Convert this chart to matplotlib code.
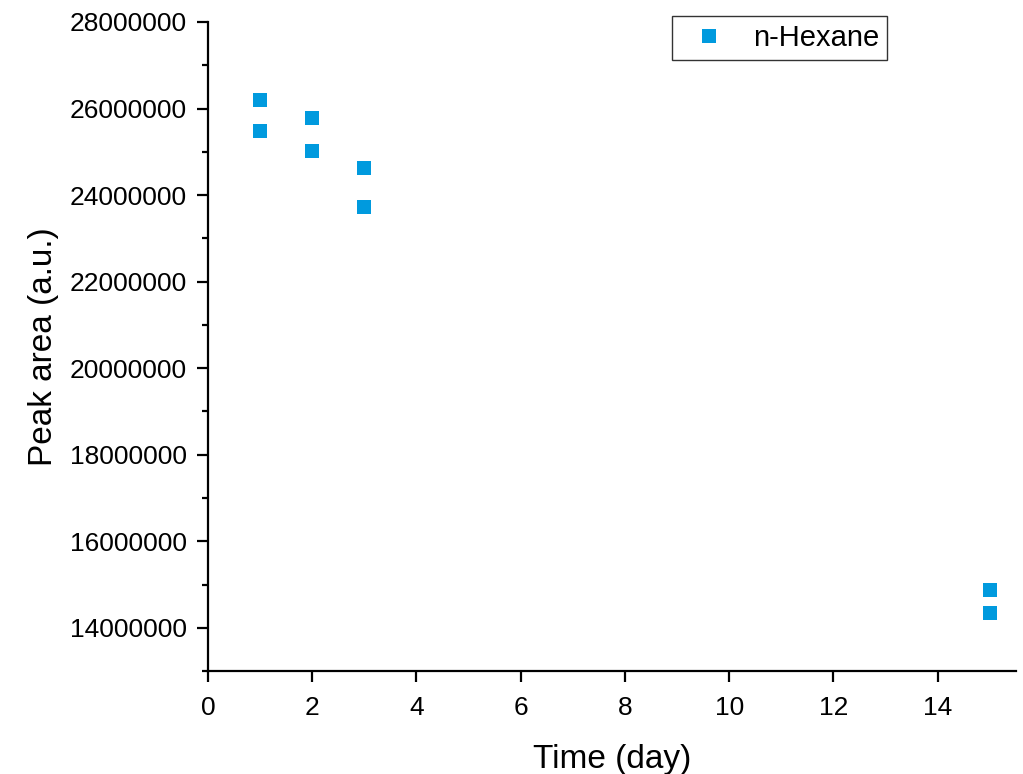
import matplotlib
matplotlib.use("Agg")
import matplotlib.pyplot as plt
from matplotlib.ticker import MultipleLocator

# values
days = [1, 1, 2, 2, 3, 3, 15, 15]
peak_area = [26200000, 25480000, 25780000, 25020000,
             24630000, 23730000, 14880000, 14350000]

plt.rcParams['font.family'] = ['Liberation Sans', 'DejaVu Sans']

fig = plt.figure(figsize=(10.23, 7.74), dpi=100)
ax = fig.add_axes([0.2033, 0.133, 0.7897, 0.8386])

ax.plot(days, peak_area, 's', color='#009ADE', markersize=10,
        markeredgewidth=0, label='n-Hexane')

ax.set_xlim(0, 15.5)
ax.set_ylim(13000000, 28000000)
ax.xaxis.set_major_locator(MultipleLocator(2))
ax.yaxis.set_major_locator(MultipleLocator(2000000))
ax.yaxis.set_minor_locator(MultipleLocator(1000000))
ax.ticklabel_format(axis='y', style='plain', useOffset=False)

for s in ['top', 'right']:
    ax.spines[s].set_visible(False)
for s in ['left', 'bottom']:
    ax.spines[s].set_linewidth(1.6)

ax.tick_params(which='major', direction='out', length=8, width=1.6,
               labelsize=19, pad=7)
ax.tick_params(axis='x', which='major', pad=10)
ax.tick_params(which='minor', direction='out', length=4, width=1.6)

ax.set_xlabel('Time (day)', fontsize=24, labelpad=17)
ax.set_ylabel('Peak area (a.u.)', fontsize=24, labelpad=8)

leg = ax.legend(loc='upper left', bbox_to_anchor=(672 / 1023, 1 - 16 / 774),
                bbox_transform=fig.transFigure, fontsize=21,
                frameon=True, fancybox=False, edgecolor='black',
                borderpad=0.27, handlelength=2.0, handletextpad=0.5,
                borderaxespad=0)
leg.get_frame().set_linewidth(1.0)

fig.savefig('out.png', dpi=100)
